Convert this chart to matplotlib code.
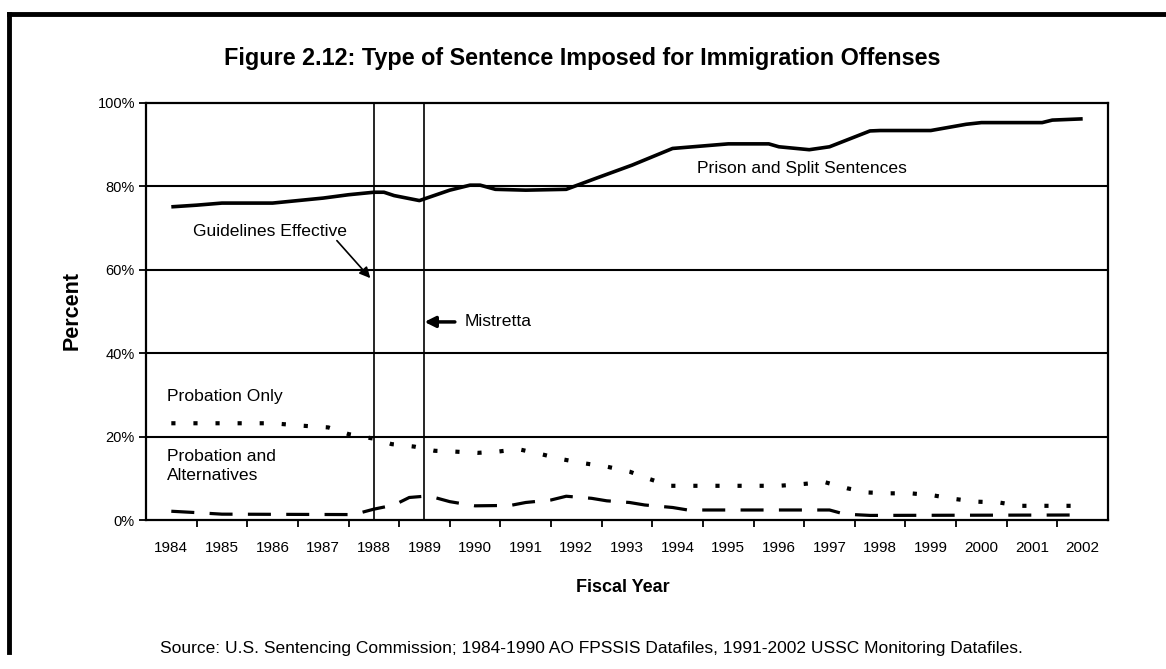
import matplotlib
matplotlib.use("Agg")
import matplotlib.pyplot as plt
from matplotlib.lines import Line2D

# ---- data ----
years = list(range(1984, 2003))
year_labels = [str(y) for y in years]
y_ticks = [0, 20, 40, 60, 80, 100]
y_tick_labels = ["0%", "20%", "40%", "60%", "80%", "100%"]

prison_x = [1984.0, 1984.5, 1985.0, 1986.0, 1986.5, 1987.0, 1987.5, 1988.0, 1988.2,
            1988.4, 1988.9, 1989.5, 1989.9, 1990.1, 1990.4, 1991.0, 1991.8, 1992.4,
            1993.1, 1993.9, 1994.3, 1995.0, 1995.8, 1996.0, 1996.6, 1997.0, 1997.8,
            1998.0, 1999.0, 1999.7, 2000.0, 2001.2, 2001.4, 2002.0]
prison_y = [75.1, 75.5, 76.0, 76.0, 76.6, 77.2, 78.0, 78.6, 78.6,
            77.8, 76.6, 79.1, 80.3, 80.3, 79.3, 79.1, 79.3, 82.0,
            85.1, 89.1, 89.5, 90.2, 90.2, 89.5, 88.8, 89.5, 93.3,
            93.4, 93.4, 94.9, 95.3, 95.3, 95.9, 96.2]

prob_only_x = [1984.0, 1985.0, 1986.0, 1986.6, 1987.1, 1987.5, 1988.0, 1988.35, 1988.8,
               1989.2, 1989.6, 1990.05, 1990.45, 1990.85, 1991.3, 1991.75, 1992.15,
               1992.6, 1993.05, 1993.45, 1993.85, 1996.0, 1996.45, 1996.9, 1997.35,
               1997.75, 1998.2, 1998.6, 1999.05, 1999.5, 1999.9, 2000.35, 2000.75, 2002.0]
prob_only_y = [23.2, 23.2, 23.2, 22.6, 22.2, 20.6, 19.5, 18.2, 17.6,
               16.6, 16.4, 16.1, 16.4, 17.0, 15.8, 14.5, 13.6,
               12.8, 11.6, 9.8, 8.2, 8.2, 8.6, 9.1, 7.6,
               6.6, 6.4, 6.4, 5.9, 5.0, 4.4, 4.2, 3.4, 3.4]

prob_alt_x = [1984.0, 1984.45, 1985.0, 1987.6, 1988.0, 1988.4, 1988.7, 1989.0, 1989.2,
              1989.5, 1990.0, 1990.7, 1991.0, 1991.5, 1991.8, 1992.3, 1992.6, 1993.05,
              1993.35, 1993.9, 1994.2, 1997.0, 1997.3, 1997.8, 2002.0]
prob_alt_y = [2.1, 1.8, 1.4, 1.3, 2.6, 3.6, 5.4, 5.7, 5.4,
              4.4, 3.4, 3.5, 4.2, 4.8, 5.7, 5.2, 4.6, 4.2,
              3.6, 3.0, 2.4, 2.4, 1.4, 1.1, 1.2]

guidelines_year = 1988.0
mistretta_year = 1989.0
guidelines_arrow_start = (1987.27, 67.0)
guidelines_arrow_tip = (1987.93, 58.0)
mistretta_arrow_start = (1989.6, 47.5)
mistretta_arrow_tip = (1989.0, 47.5)

# ---- figure ----
W, H = 1166, 669
fig = plt.figure(figsize=(W / 100, H / 100), dpi=100)
FONT = "Liberation Sans"
plt.rcParams["font.family"] = [FONT, "DejaVu Sans"]

def fx(x):
    return x / W

def fy(y):
    return 1 - y / H

ax = fig.add_axes([fx(146), fy(520), fx(1108) - fx(146), fy(103) - fy(520)])
ax.set_xlim(1983.5, 2002.5)
ax.set_ylim(0, 100)

for v in y_ticks[1:-1]:
    ax.axhline(v, color="black", lw=1.5, zorder=1)

ax.axvline(guidelines_year, color="black", lw=1.2, zorder=2)
ax.axvline(mistretta_year, color="black", lw=1.2, zorder=2)

ax.plot(prison_x, prison_y, color="black", lw=2.6, solid_capstyle="butt", zorder=3)
ax.plot(prob_only_x, prob_only_y, color="black", lw=3.0, dashes=(1.0, 4.3), zorder=3)
ax.plot(prob_alt_x, prob_alt_y, color="black", lw=2.3, dashes=(7.2, 4.8), zorder=3)

# ticks
ax.set_yticks(y_ticks)
ax.set_yticklabels(y_tick_labels, fontsize=10.5, family=FONT)
ax.set_xticks([y + 0.5 for y in years[:-1]])
ax.set_xticklabels([])
ax.set_xticks(years, minor=True)
ax.set_xticklabels(year_labels, minor=True, fontsize=11, family=FONT)
ax.tick_params(axis="x", which="major", direction="out", length=5, width=1.3)
ax.tick_params(axis="x", which="minor", length=0, pad=15)
ax.tick_params(axis="y", direction="out", length=5, width=1.3, pad=3)
for s in ax.spines.values():
    s.set_linewidth(1.6)
    s.set_color("black")

# annotations
ax.annotate("", xy=guidelines_arrow_tip, xytext=guidelines_arrow_start,
            arrowprops=dict(arrowstyle="-|>", color="black", lw=1.2,
                            mutation_scale=16, shrinkA=0, shrinkB=0))
ax.annotate("", xy=mistretta_arrow_tip, xytext=mistretta_arrow_start,
            arrowprops=dict(arrowstyle="-|>", color="black", lw=2.5,
                            mutation_scale=16, shrinkA=0, shrinkB=0))

LBL = 12.6
fig.text(fx(193), fy(231), "Guidelines Effective", fontsize=LBL, family=FONT,
         ha="left", va="center")
fig.text(fx(465), fy(322), "Mistretta", fontsize=LBL, family=FONT,
         ha="left", va="center")
fig.text(fx(697), fy(169), "Prison and Split Sentences", fontsize=LBL, family=FONT,
         ha="left", va="center")
fig.text(fx(167), fy(397), "Probation Only", fontsize=LBL, family=FONT,
         ha="left", va="center")
fig.text(fx(167), fy(466), "Probation and\nAlternatives", fontsize=LBL, family=FONT,
         ha="left", va="center", linespacing=1.3)

# titles
fig.text(fx(582), fy(58), "Figure 2.12: Type of Sentence Imposed for Immigration Offenses",
         fontsize=16.8, fontweight="bold", family=FONT, ha="center", va="center")
fig.text(fx(72), fy(310), "Percent", fontsize=15.5, fontweight="bold", family=FONT,
         rotation=90, ha="center", va="center")
fig.text(fx(623), fy(587), "Fiscal Year", fontsize=13, fontweight="bold", family=FONT,
         ha="center", va="center")
fig.text(fx(160), fy(648),
         "Source: U.S. Sentencing Commission; 1984-1990 AO FPSSIS Datafiles, "
         "1991-2002 USSC Monitoring Datafiles.",
         fontsize=12.5, family=FONT, ha="left", va="center")

# outer frame (top and left borders)
fig.add_artist(Line2D([fx(9), fx(1166)], [fy(14), fy(14)], color="black", lw=3.5,
                      transform=fig.transFigure))
fig.add_artist(Line2D([fx(9), fx(9)], [fy(14), fy(652)], color="black", lw=3.5,
                      transform=fig.transFigure))

fig.savefig("out.png", dpi=100)
